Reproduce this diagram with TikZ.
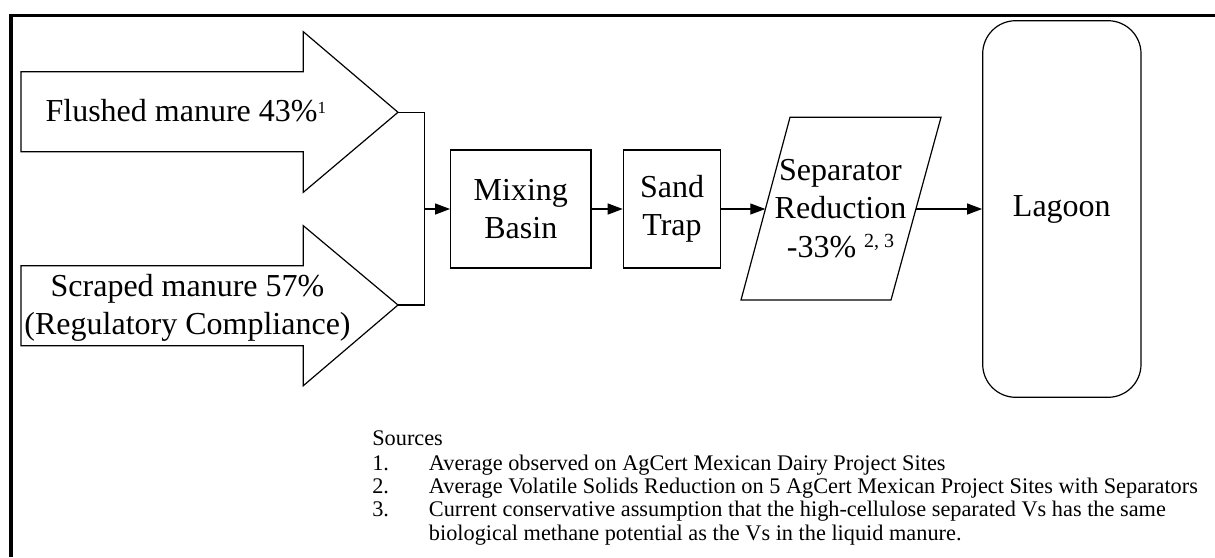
\documentclass[tikz,border=0pt]{standalone}
\usepackage{fontspec}
\setmainfont{Liberation Serif}
\usetikzlibrary{arrows.meta}
\begin{document}
\begin{tikzpicture}[x=1pt,y=-1pt,
  line width=1.2pt,
  big/.style={font=\fontsize{32}{38.3}\selectfont, inner sep=0pt, align=center},
  box/.style={big, draw, line width=1.2pt, minimum height=118pt},
  flow/.style={-{Triangle[length=15pt,width=11pt]}, line width=1.2pt},
  blockarrow/.style={draw, line width=1.2pt, fill=white, line join=miter},
  notes/.style={font=\fontsize{22.3}{23.3}\selectfont, inner sep=0pt, anchor=base west}
]
\useasboundingbox (0,0) rectangle (1215,557);
% frame
\draw[line width=3.6pt] (10.8,557) -- (10.8,15.3) -- (1215,15.3);

% block arrows
\draw[blockarrow] (21,71.7) -- (303.3,71.7) -- (303.3,31.7) -- (398,112.3) -- (303.3,192.3) -- (303.3,151.7) -- (21,151.7) -- cycle;
\coordinate (tip1) at (398,112.3);
\node[big, anchor=base west] (flushed) at (45,121.7) {Flushed manure 43\%\raisebox{8.4pt}{\fontsize{17}{17}\selectfont 1}};

\draw[blockarrow] (21,265.7) -- (303.3,265.7) -- (303.3,225.7) -- (398,305) -- (303.3,385.7) -- (303.3,345.7) -- (21,345.7) -- cycle;
\coordinate (tip2) at (398,305);
\node[big] (scraped) at (187.5,307.5) {Scraped manure 57\%\\(Regulatory Compliance)};

% junction
\coordinate (j) at (424.3,209);
\draw (tip1) -- (tip1 -| j) -- (tip2 -| j) -- (tip2);

% boxes
\node[box, minimum width=140.3pt] (mix) at (520.8,209) {Mixing\\Basin};
\node[box, minimum width=97.4pt] (sand) at (672,209) {Sand\\Trap};

% separator parallelogram
\draw (790,117.3) -- (941,117.3) -- (891,300) -- (741,300) -- cycle;
\coordinate (sepin) at (765.3,209);
\coordinate (sepout) at (915.8,209);
\node[big] (sep) at (840.5,208.5) {Separator\\Reduction\\-33\%~\raisebox{10pt}{\fontsize{20}{20}\selectfont 2, 3}};

% lagoon
\node[big, draw, rounded corners=33pt, minimum width=158.3pt, minimum height=376.6pt] (lag) at (1061.85,209) {Lagoon};

% connectors
\draw[flow] (j) -- (j -| mix.west);
\draw[flow] (mix.east) -- (sand.west);
\draw[flow] (sand.east) -- (sepin);
\draw[flow] (sepout) -- (lag.west);

% sources
\node[notes] (src) at (371.7,445) {Sources};
\node[notes] (n1) at (371.7,470) {1.};
\node[notes] (t1) at (428.3,470) {Average observed on AgCert Mexican Dairy Project Sites};
\node[notes] (n2) at (371.7,493.3) {2.};
\node[notes] (t2) at (428.3,493.3) {Average Volatile Solids Reduction on 5 AgCert Mexican Project Sites with Separators};
\node[notes] (n3) at (371.7,516.7) {3.};
\node[notes] (t3) at (428.3,516.7) {Current conservative assumption that the high-cellulose separated Vs has the same};
\node[notes] (t3b) at (428.3,540) {biological methane potential as the Vs in the liquid manure.};
\end{tikzpicture}
\end{document}
